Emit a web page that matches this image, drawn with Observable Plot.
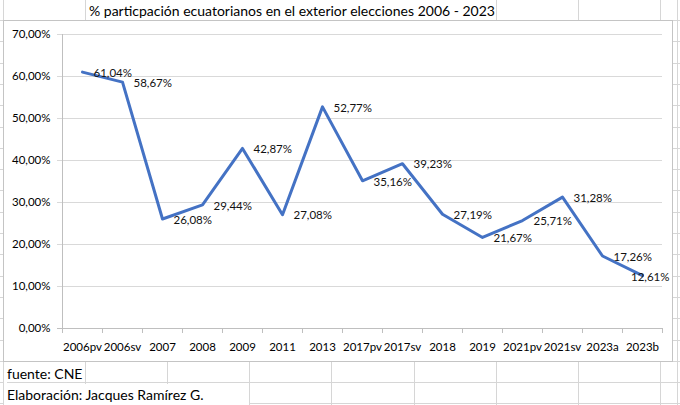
<!DOCTYPE html>
<html><head><meta charset="utf-8">
<script src="https://cdn.jsdelivr.net/npm/d3@7"></script>
<script src="https://cdn.jsdelivr.net/npm/@observablehq/plot@0.6"></script>
<style>
body{margin:0;background:#fff;}
#sheet{position:relative;width:680px;height:405px;overflow:hidden;font-family:Lato,sans-serif;color:#000;background:#fff;}
.gl{position:absolute;background:#d6d6d6;}
.cell{position:absolute;background:#fff;white-space:nowrap;font-size:14px;line-height:21px;}
#box{position:absolute;left:3px;top:20px;width:670px;height:342px;border:1px solid #c4c4c4;box-sizing:border-box;background:#fff;}
#box svg{position:absolute;left:0;top:0;}
</style></head>
<body><div id="sheet"></div>
<script>
const categories = ["2006pv","2006sv","2007","2008","2009","2011","2013","2017pv","2017sv","2018","2019","2021pv","2021sv","2023a","2023b"];
const participation = [61.04,58.67,26.08,29.44,42.87,27.08,52.77,35.16,39.23,27.19,21.67,25.71,31.28,17.26,12.61];
const yTicks = [0,10,20,30,40,50,60,70];
const titleText = "% particpación ecuatorianos en el exterior elecciones 2006 - 2023";
const sourceText = "fuente: CNE";
const creditText = "Elaboración: Jacques Ramírez G.";

const data = categories.map((c, i) => ({cat: c, v: participation[i]}));
const fmt = v => v.toFixed(2).replace(".", ",") + "%";

const sheet = document.getElementById("sheet");
// spreadsheet gridlines (decoration)
for (let k = 0; k < 9; k++) {
  const d = document.createElement("div");
  d.className = "gl";
  d.style.cssText = `left:${Math.round(3 + k * 82.1)}px;top:0;width:1px;height:405px;`;
  sheet.appendChild(d);
}
for (let k = 0; k < 19; k++) {
  const d = document.createElement("div");
  d.className = "gl";
  d.style.cssText = `left:0;top:${Math.round(20 + k * 21.3)}px;width:680px;height:1px;`;
  sheet.appendChild(d);
}
{
  const d = document.createElement("div");
  d.className = "gl";
  d.style.cssText = `left:677px;top:0;width:1px;height:405px;`;
  sheet.appendChild(d);
}
function cell(text, left, top, width, height) {
  const d = document.createElement("div");
  d.className = "cell";
  d.style.cssText = `left:${left}px;top:${top}px;width:${width}px;height:${height}px;padding-left:3px;box-sizing:border-box;`;
  d.textContent = text;
  sheet.appendChild(d);
}
cell(titleText, 86, 0, 409, 20);
cell(sourceText, 4, 363, 0, 20);
cell(creditText, 4, 384, 245, 21);

const box = document.createElement("div");
box.id = "box";
sheet.appendChild(box);

const chart = Plot.plot({
  width: 668, height: 340,
  marginLeft: 58, marginRight: 10, marginTop: 13, marginBottom: 33,
  style: {fontFamily: "Lato, sans-serif", fontSize: "11.5px", color: "#000", background: "transparent", overflow: "visible"},
  x: {type: "point", domain: categories, padding: 0.5, tickSize: 0, tickPadding: 14, label: null},
  y: {domain: [0, 70], ticks: yTicks, tickFormat: fmt, tickSize: 0, tickPadding: 12, label: null},
  marks: [
    Plot.ruleY(yTicks, {stroke: "#d9d9d9", insetLeft: -5}),
    Plot.ruleX([categories[0]], {y1: 0, y2: 70, dx: -20, stroke: "#bfbfbf"}),
    Plot.ruleY([0], {stroke: "#bfbfbf", insetLeft: -5}),
    Plot.ruleX(categories, {y1: 0, y2: 0, dx: -20, insetBottom: -5, stroke: "#bfbfbf"}),
    Plot.ruleX([categories[categories.length - 1]], {y1: 0, y2: 0, dx: 20, insetBottom: -5, stroke: "#bfbfbf"}),
    Plot.line(data, {x: "cat", y: "v", stroke: "#4472C4", strokeWidth: 3, strokeLinejoin: "round", strokeLinecap: "round"}),
    Plot.text(data.slice(0, -1), {x: "cat", y: "v", text: d => fmt(d.v), textAnchor: "start", dx: 11, dy: 1, fill: "#111"}),
    Plot.text(data.slice(-1), {x: "cat", y: "v", text: d => fmt(d.v), textAnchor: "end", dx: 27, dy: 2, fill: "#111"})
  ]
});
box.appendChild(chart);
</script>
</body></html>
